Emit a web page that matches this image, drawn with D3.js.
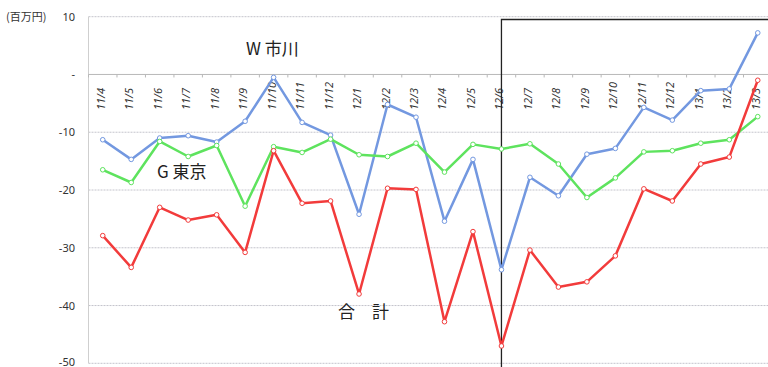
<!DOCTYPE html>
<html><head><meta charset="utf-8">
<script src="https://cdn.jsdelivr.net/npm/d3@7"></script>
<style>body{margin:0;background:#fff;}svg{display:block;font-family:"Noto Sans CJK JP","Noto Sans",sans-serif;}</style>
</head><body>
<svg id="c" width="768" height="367"></svg>
<script>
const categories = ["11/4","11/5","11/6","11/7","11/8","11/9","11/10","11/11","11/12","12/1","12/2","12/3","12/4","12/5","12/6","12/7","12/8","12/9","12/10","12/11","12/12","13/1","13/2","13/3"];
const ichikawa = [-11.3,-14.7,-11.0,-10.6,-11.7,-8.1,-0.5,-8.3,-10.5,-24.2,-5.2,-7.4,-25.4,-14.7,-33.8,-17.8,-21.0,-13.8,-12.8,-5.7,-7.9,-2.8,-2.5,7.2];
const tokyo = [-16.5,-18.7,-11.6,-14.2,-12.3,-22.8,-12.5,-13.5,-11.2,-13.9,-14.2,-11.9,-16.9,-12.1,-12.9,-12.0,-15.5,-21.3,-17.9,-13.4,-13.2,-11.9,-11.3,-7.3];
const total = [-27.9,-33.4,-23.0,-25.2,-24.3,-30.8,-13.2,-22.3,-21.9,-38.0,-19.7,-19.9,-42.8,-27.2,-47.0,-30.4,-36.8,-35.9,-31.4,-19.8,-21.9,-15.5,-14.3,-1.0];
const yTicks = [10,0,-10,-20,-30,-40,-50];
const yTickLabels = ["10","-","-10","-20","-30","-40","-50"];
const unitLabel = "(百万円)";
const seriesNames = ["W 市川","G 東京","合　計"];

const svg = d3.select("#c");
const pLeft = 88.5, pRight = 772, pTop = 16.7, pBottom = 363.3;
const x = d3.scaleBand().domain(categories).range([pLeft, pRight]);
const y = d3.scaleLinear().domain([-50, 10]).range([pBottom, pTop]);
const cx = d => x(d) + x.bandwidth()/2;

// gridlines
svg.append("g").selectAll("line").data(yTicks.filter(t => t !== 0)).join("line")
  .attr("x1", pLeft).attr("x2", 768).attr("y1", d => y(d)).attr("y2", d => y(d))
  .attr("stroke", "#c4c4cc").attr("stroke-width", 1).attr("stroke-dasharray", "2,1");
// y axis line
svg.append("line").attr("x1", pLeft).attr("x2", pLeft).attr("y1", pTop).attr("y2", pBottom)
  .attr("stroke", "#cfcfcf").attr("stroke-width", 1);
// zero axis with ticks
svg.append("line").attr("x1", pLeft).attr("x2", 768).attr("y1", y(0)).attr("y2", y(0))
  .attr("stroke", "#b8b8b8").attr("stroke-width", 1);
svg.append("g").selectAll("line").data(categories).join("line")
  .attr("x1", d => x(d)).attr("x2", d => x(d)).attr("y1", y(0)).attr("y2", y(0) + 3)
  .attr("stroke", "#b8b8b8");

// y tick labels
svg.append("g").selectAll("text").data(yTicks).join("text")
  .attr("x", 75).attr("y", d => Math.min(y(d) + 4, 365.5)).attr("text-anchor", "end")
  .attr("font-size", 11).attr("fill", "#333").attr("font-family", "Noto Sans, sans-serif")
  .text((d, i) => yTickLabels[i]);
svg.append("text").attr("x", 6).attr("y", 21).attr("font-size", 11).attr("fill", "#333").text(unitLabel);

// category labels
svg.append("g").selectAll("text").data(categories).join("text")
  .attr("transform", d => `translate(${cx(d) + 2},110) rotate(-90)`)
  .attr("text-anchor", "start").attr("font-size", 11).attr("font-style", "italic")
  .attr("fill", "#333").attr("font-family", "Noto Sans, sans-serif").text(d => d);

// black rectangle
svg.append("path")
  .attr("d", `M${cx("12/6")},367 V19.5 H770`)
  .attr("fill", "none").attr("stroke", "#222").attr("stroke-width", 1.3);

const series = [
  {vals: ichikawa, color: "#7398e0"},
  {vals: tokyo, color: "#5ee35e"},
  {vals: total, color: "#f23b3b"}
];
const line = d3.line().x((d, i) => cx(categories[i])).y(d => y(d));
series.forEach(s => {
  svg.append("path").datum(s.vals).attr("d", line)
    .attr("fill", "none").attr("stroke", s.color).attr("stroke-width", 2.5).attr("stroke-linejoin", "round");
  svg.append("g").selectAll("circle").data(s.vals).join("circle")
    .attr("cx", (d, i) => cx(categories[i])).attr("cy", d => y(d)).attr("r", 2.3)
    .attr("fill", "#fff").attr("stroke", s.color).attr("stroke-width", 1);
});

// series name labels
const nameLabels = [[246, 55], [157, 178], [338, 318]];
svg.append("g").selectAll("text").data(seriesNames).join("text")
  .attr("x", (d, i) => nameLabels[i][0]).attr("y", (d, i) => nameLabels[i][1])
  .attr("font-size", 17).attr("fill", "#222").text(d => d);
</script>
</body></html>
